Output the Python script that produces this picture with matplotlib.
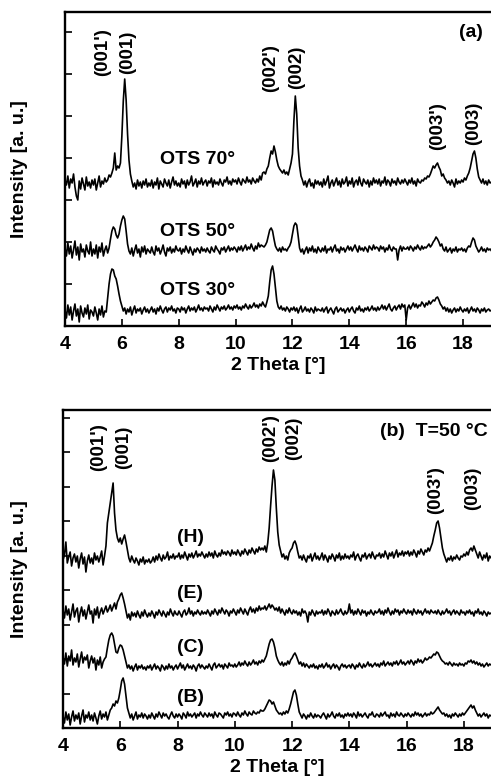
import numpy as np
import matplotlib
matplotlib.use("Agg")
import matplotlib.pyplot as plt

plt.rcParams['font.family'] = ['Liberation Sans', 'DejaVu Sans']
plt.rcParams['font.weight'] = 'bold'
plt.rcParams['axes.labelweight'] = 'bold'

# ---------------- data (intensity, arbitrary units), 2θ from 4.00° to 19.00° in 0.05° steps
ots70 = [
    146,141,150,138,147,143,152,139,130,126,145,137,148,142,136,149,140,144,138,146,
    141,147,136,143,150,139,145,142,148,144,146,151,149,153,158,173,156,160,158,163,
    190,225,247,226,192,166,152,145,139,143,137,146,140,144,138,145,141,147,139,143,
    140,146,138,144,141,148,137,145,142,139,147,143,140,146,138,144,149,141,145,140,
    143,139,147,142,145,138,146,141,144,150,140,143,147,139,145,142,148,141,144,146,
    140,145,143,148,139,146,142,144,141,147,143,140,146,144,149,142,145,141,147,144,
    146,142,148,144,141,147,145,143,149,144,146,142,148,145,143,147,144,150,146,153,
    154,152,157,160,168,175,172,180,174,166,160,157,155,153,156,152,154,151,157,163,
    172,205,230,212,178,160,150,146,141,145,139,144,147,140,143,138,146,142,145,141,
    144,139,147,141,145,150,138,143,146,140,144,148,141,145,139,147,142,144,149,140,
    145,142,148,139,144,146,141,149,143,140,147,144,142,146,139,145,141,148,143,146,
    142,147,140,145,143,149,141,146,144,140,147,143,145,141,148,144,142,146,143,147,
    144,141,146,143,148,142,145,140,147,144,143,146,145,148,147,150,149,152,156,160,
    158,161,163,159,156,150,152,148,146,143,145,141,146,143,139,147,142,145,143,146,
    144,148,146,150,153,158,165,172,175,168,157,149,146,143,147,142,145,141,146,143,
    144,
]
ots50 = [
    78,70,83,72,80,68,76,85,71,79,66,82,74,77,69,81,75,72,84,70,
    77,72,81,68,79,74,83,70,76,80,73,78,87,95,99,97,91,88,92,100,
    106,110,107,95,82,75,72,78,70,76,81,73,77,69,79,74,80,72,77,75,
    73,79,74,71,80,75,78,72,76,81,74,70,78,75,79,73,77,74,80,76,
    75,78,72,77,74,80,76,73,79,75,71,77,74,78,76,73,79,75,77,74,
    78,75,73,79,76,74,80,77,75,72,78,76,79,74,77,80,75,78,76,79,
    77,74,79,76,80,75,78,81,76,79,77,82,78,75,80,77,83,79,81,80,
    79,81,84,90,96,98,95,87,80,77,75,78,74,79,76,77,75,78,80,84,
    92,100,103,101,90,78,74,77,72,76,79,73,78,75,80,74,77,73,79,76,
    74,78,75,80,73,77,76,79,74,78,81,75,77,73,79,76,78,74,77,80,
    76,79,75,78,81,77,74,80,76,78,75,79,77,74,80,78,76,81,77,79,
    78,75,80,77,79,74,78,76,81,77,75,79,77,77,66,76,80,75,79,77,
    77,79,76,80,78,75,79,77,81,78,76,80,77,79,78,80,82,79,81,84,
    86,89,87,84,80,82,77,75,79,74,76,78,73,77,75,79,74,77,76,78,
    75,77,74,78,80,79,84,88,86,80,77,74,76,79,75,77,74,78,76,77,
    75,
]
ots30 = [
    16,8,21,11,19,6,15,22,10,17,4,20,13,9,18,12,21,7,16,14,
    10,19,13,6,17,11,20,9,15,14,28,42,52,57,56,50,47,40,32,25,
    20,15,18,12,17,14,19,11,16,20,13,17,15,18,12,16,19,14,17,13,
    16,19,14,17,12,18,15,20,16,13,17,19,14,18,16,20,15,17,13,18,
    17,14,19,16,18,13,17,20,15,18,16,19,14,17,21,16,18,15,19,17,
    18,15,20,17,14,19,16,21,18,15,19,17,20,16,18,21,17,19,16,20,
    18,21,17,19,16,20,18,22,19,17,21,18,20,23,19,21,18,22,20,24,
    21,19,24,30,44,56,60,52,38,25,19,17,20,16,18,15,19,17,14,18,
    16,19,15,18,13,17,20,14,16,19,15,17,14,18,16,13,19,15,17,16,
    15,18,14,17,19,13,16,18,15,12,17,19,14,16,18,15,17,13,16,18,
    14,17,19,15,13,18,16,20,15,17,14,18,16,19,15,17,20,16,18,15,
    19,16,18,21,17,20,16,19,22,17,15,18,20,16,19,21,17,22,19,21,
    6,18,21,17,20,23,19,22,18,21,20,24,22,19,23,21,25,22,24,26,
    25,28,29,26,22,20,17,19,15,18,14,17,13,16,18,14,17,15,19,16,
    14,17,15,18,13,16,19,15,17,14,18,16,13,17,15,18,14,16,17,15,
    16,
]

trace_H = [
    168,173,186,165,171,176,162,170,174,166,172,160,169,175,164,171,156,167,173,165,
    170,164,175,168,172,166,171,177,163,172,182,205,215,225,235,245,215,198,190,186,
    190,184,189,193,186,178,170,166,172,168,165,170,167,163,169,166,171,164,168,166,
    169,165,167,171,166,172,168,174,170,167,173,169,171,176,168,172,170,174,169,172,
    171,175,169,173,170,176,172,168,174,171,175,170,173,177,171,174,172,176,173,170,
    174,171,176,172,175,170,177,173,171,175,172,178,174,176,173,177,175,172,178,174,
    176,173,178,175,172,177,174,179,176,173,178,175,180,177,174,179,176,181,178,180,
    178,182,176,185,200,222,242,258,248,220,196,183,177,171,174,169,172,168,175,178,
    180,185,187,183,176,170,172,168,173,169,166,172,170,174,167,171,175,169,172,168,
    171,175,168,173,170,166,172,169,174,171,167,173,170,175,168,172,169,174,170,172,
    169,173,171,176,168,172,174,170,167,173,171,175,169,172,174,170,176,172,169,173,
    172,175,170,174,171,177,173,169,175,172,176,170,174,178,171,175,173,177,172,176,
    174,177,172,176,173,178,175,171,177,174,179,176,173,178,176,180,177,181,185,192,
    198,205,207,200,190,180,174,170,166,170,168,172,167,171,169,173,170,168,172,171,
    174,172,176,173,178,180,177,182,178,174,170,176,172,168,173,170,175,167,172,170,
    171,
]
trace_E = [
    118,110,122,113,119,108,116,124,111,117,120,106,115,121,112,118,109,116,123,114,
    117,105,119,113,121,110,116,120,114,118,122,116,119,123,117,121,125,119,126,129,
    133,135,130,124,117,110,114,108,116,112,115,111,117,113,110,116,112,118,114,111,
    115,112,117,114,110,116,113,118,115,112,117,114,111,116,113,119,115,112,117,114,
    113,117,114,111,116,118,113,115,120,114,117,112,116,114,118,115,113,117,114,116,
    114,118,115,112,117,114,119,116,113,118,115,120,117,114,118,116,112,117,115,119,
    116,113,118,115,120,117,114,119,116,113,118,121,116,119,115,120,117,122,118,120,
    119,122,118,121,124,120,123,121,118,120,117,121,115,119,116,113,118,115,120,116,
    114,118,115,117,113,116,112,119,115,117,114,106,116,113,118,115,112,117,114,116,
    115,118,113,117,114,119,116,112,117,115,113,118,114,116,119,115,113,117,114,116,
    124,115,118,113,117,114,119,116,113,118,115,117,112,116,114,118,115,113,117,115,
    116,119,114,117,113,118,115,120,116,113,117,114,119,116,118,113,117,115,119,116,
    114,118,115,117,113,119,116,114,118,115,117,113,116,119,115,117,114,118,116,115,
    117,114,118,115,113,117,114,116,119,115,117,113,116,118,114,117,115,113,118,115,
    116,113,117,115,118,114,116,112,117,115,119,114,116,113,117,115,112,116,114,115,
    114,
]
trace_C = [
    70,64,75,62,72,67,78,63,70,66,74,61,69,76,65,71,68,73,60,67,
    72,65,70,58,68,63,71,60,66,69,71,80,88,93,95,92,84,76,75,80,
    83,82,78,72,66,60,63,59,62,57,61,64,58,62,60,63,59,61,58,62,
    60,63,58,61,64,59,62,60,57,63,61,58,62,59,64,60,62,58,61,63,
    59,62,65,60,63,58,61,64,60,62,59,63,61,57,62,64,60,63,61,59,
    62,60,64,61,58,63,65,60,62,64,61,63,59,64,62,60,65,62,63,61,
    64,61,63,66,62,65,63,67,64,62,66,63,65,68,64,66,63,67,65,68,
    66,69,72,78,84,88,89,86,80,72,68,65,63,66,62,65,63,67,64,68,
    70,73,75,72,68,64,66,62,65,61,64,62,60,63,61,64,60,62,59,63,
    61,64,60,62,65,61,63,59,62,64,60,63,61,58,62,64,61,63,60,62,
    63,60,64,62,59,63,61,65,62,60,64,61,63,66,62,64,61,63,65,62,
    64,61,65,63,67,62,64,66,63,65,62,66,64,67,63,65,68,64,66,63,
    65,67,64,68,66,63,67,65,69,66,68,65,67,70,68,69,71,70,72,74,
    73,76,75,72,69,67,66,64,65,63,66,64,62,65,63,64,62,65,63,64,
    62,65,64,67,66,68,65,67,64,66,63,65,62,64,61,63,65,62,64,63,
    64,
]
trace_B = [
    12,5,16,8,14,3,11,17,7,13,9,15,4,12,18,6,13,10,16,8,
    13,7,15,10,4,12,17,9,14,11,16,8,13,18,20,24,22,27,25,30,
    38,47,50,44,32,20,15,10,14,8,12,16,9,13,11,15,10,14,12,9,
    13,10,15,12,9,14,11,16,13,10,15,12,14,11,9,13,16,12,10,14,
    11,14,12,9,15,13,10,16,12,14,11,13,15,10,14,12,16,13,11,15,
    13,11,15,12,14,10,16,13,11,15,14,12,10,15,13,16,12,14,11,15,
    14,12,16,13,11,15,13,17,14,12,16,14,13,17,15,14,16,15,18,17,
    17,19,22,25,28,27,24,26,22,18,16,14,15,13,16,14,17,15,19,24,
    30,36,38,33,24,16,13,10,14,12,9,13,11,15,12,10,14,11,13,12,
    10,13,15,12,9,14,11,13,16,12,10,14,12,15,11,13,10,14,12,15,
    12,14,11,15,13,10,16,12,14,11,13,15,12,10,14,13,16,12,11,14,
    13,11,15,12,14,16,12,13,10,15,12,14,11,16,13,12,15,13,11,14,
    12,15,13,11,14,12,16,13,15,12,14,11,13,15,12,14,13,16,14,15,
    17,19,21,18,16,14,15,12,14,11,13,10,14,12,15,13,11,14,12,15,
    13,15,17,19,21,23,20,22,18,15,12,14,11,13,15,12,14,10,13,12,
    13,
]

xticks = [4, 6, 8, 10, 12, 14, 16, 18]
top_names = ["OTS 70°", "OTS 50°", "OTS 30°"]
top_name_y = [166, 94, 36]
bot_names = ["(H)", "(E)", "(C)", "(B)"]
bot_name_y = [190, 135, 81, 31]

top_peak_labels = ["(001')", "(001)", "(002')", "(002)", "(003')", "(003)"]
top_peak_x = [5.34, 6.22, 11.22, 12.13, 17.10, 18.37]
top_peak_y = [274, 274, 258, 259, 200, 203]
bot_peak_labels = ["(001')", "(001)", "(002')", "(002)", "(003')", "(003)"]
bot_peak_x = [5.26, 6.13, 11.24, 12.04, 17.00, 18.30]
bot_peak_y = [281, 281, 290, 290, 238, 240]

# ---------------- figure
W, H = 491, 779
fig = plt.figure(figsize=(W / 100, H / 100), dpi=100)
ax1 = fig.add_axes([65 / W, (H - 326) / H, 426.5 / W, 314 / H])
ax2 = fig.add_axes([63 / W, (H - 728) / H, 429.5 / W, 318 / H])

FS = 14
lw_trace = 1.2


def style(ax, ytick_step, ytop):
    ax.set_xlim(4, 19)
    ax.set_ylim(0, ytop)
    ax.set_xticks(xticks)
    ax.set_yticks(np.arange(0, ytop, ytick_step))
    ax.set_yticklabels([])
    ax.tick_params(axis='both', direction='in', length=5, width=1.2,
                   labelsize=FS, pad=7, top=False, right=False)
    for s in ['left', 'bottom', 'top']:
        ax.spines[s].set_linewidth(1.7)
    ax.spines['right'].set_visible(False)
    ax.set_xlabel("2 Theta [°]", fontsize=FS, labelpad=3)
    ax.set_ylabel("Intensity [a. u.]", fontsize=FS)


for tr in [ots70, ots50, ots30]:
    ax1.plot(np.linspace(4, 19, len(tr)), tr, color='black', lw=lw_trace)
for tr in [trace_H, trace_E, trace_C, trace_B]:
    ax2.plot(np.linspace(4, 19, len(tr)), tr, color='black', lw=lw_trace)

style(ax1, 42, 314)
style(ax2, 34.5, 318)
ax1.yaxis.set_label_coords(-0.087, 0.5)
ax2.yaxis.set_label_coords(-0.0815, 0.5)

for name, yy in zip(top_names, top_name_y):
    ax1.text(8.67, yy, name, fontsize=FS, ha='center', va='center')
for name, yy in zip(bot_names, bot_name_y):
    ax2.text(8.45, yy, name, fontsize=FS, ha='center', va='center')

for lab, xx, yy in zip(top_peak_labels, top_peak_x, top_peak_y):
    ax1.text(xx, yy, lab, fontsize=13.5, rotation=90, ha='center', va='center')
for lab, xx, yy in zip(bot_peak_labels, bot_peak_x, bot_peak_y):
    ax2.text(xx, yy, lab, fontsize=13.5, rotation=90, ha='center', va='center')

ax1.text(0.980, 0.936, "(a)", transform=ax1.transAxes, fontsize=FS, ha='right', va='center')
ax2.text(0.9895, 0.931, "(b)  T=50 °C", transform=ax2.transAxes, fontsize=FS, ha='right', va='center')

fig.savefig("out.png", dpi=100)
